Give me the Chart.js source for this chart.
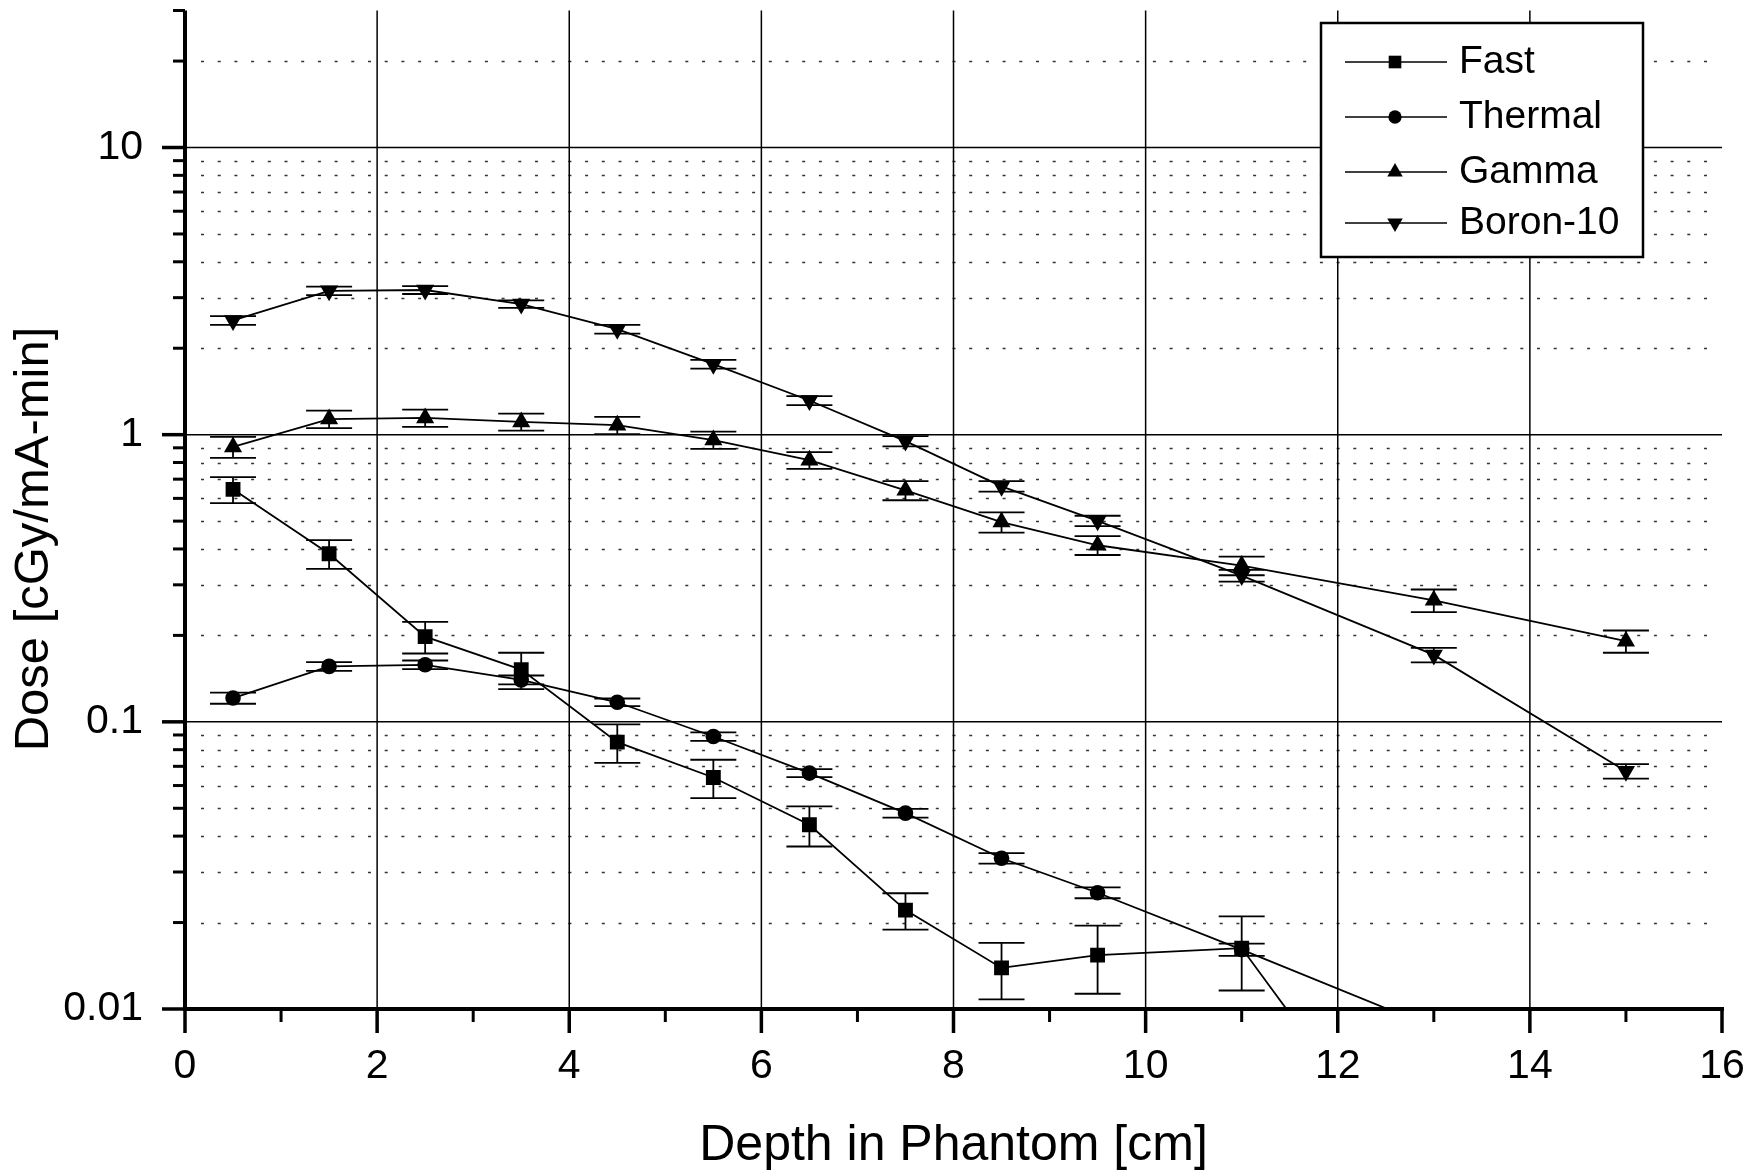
<!DOCTYPE html>
<html>
<head>
<meta charset="utf-8">
<script src="https://cdn.jsdelivr.net/npm/chart.js@4.4.1/dist/chart.umd.min.js"></script>
<style>
  html, body { margin: 0; padding: 0; background: #fff; }
  canvas { display: block; }
</style>
</head>
<body>
<canvas id="doseChart" width="1762" height="1174"></canvas>
<script>
// ---------- DATA ----------
const depths = [0.5, 1.5, 2.5, 3.5, 4.5, 5.5, 6.5, 7.5, 8.5, 9.5, 11, 13, 15];

const fastDose    = [0.645, 0.385, 0.198, 0.152, 0.085, 0.0640, 0.0438, 0.0221, 0.0139, 0.0154, 0.0163, 0.0020, null];
const fastErr     = [0.067, 0.044, 0.025, 0.022, 0.013, 0.0098, 0.0070, 0.0032, 0.0031, 0.0041, 0.0047, 0.0006, null];

const thermalDose = [0.121, 0.156, 0.158, 0.140, 0.117, 0.0889, 0.0663, 0.0481, 0.0335, 0.0254, 0.0161, 0.0086, null];
const thermalErr  = [0.0054, 0.0055, 0.0055, 0.0050, 0.0036, 0.0030, 0.0021, 0.0017, 0.0014, 0.0011, 0.0008, 0.0004, null];

const gammaDose   = [0.906, 1.133, 1.144, 1.108, 1.079, 0.958, 0.815, 0.640, 0.496, 0.412, 0.350, 0.265, 0.191];
const gammaErr    = [0.076, 0.079, 0.079, 0.075, 0.075, 0.066, 0.055, 0.049, 0.040, 0.031, 0.026, 0.024, 0.017];

const boronDose   = [2.50, 3.17, 3.19, 2.85, 2.33, 1.76, 1.315, 0.95, 0.661, 0.501, 0.323, 0.171, 0.0673];
const boronErr    = [0.089, 0.107, 0.100, 0.085, 0.082, 0.062, 0.048, 0.039, 0.028, 0.021, 0.015, 0.010, 0.0039];

const seriesNames = ["Fast", "Thermal", "Gamma", "Boron-10"];

// axis ticks
const xMajorTicks = [0, 2, 4, 6, 8, 10, 12, 14, 16];
const xMinorTicks = [1, 3, 5, 7, 9, 11, 13, 15];
const yMajorTicks = [0.01, 0.1, 1, 10];
const yMinorTicks = [0.02, 0.03, 0.04, 0.05, 0.06, 0.07, 0.08, 0.09,
                     0.2, 0.3, 0.4, 0.5, 0.6, 0.7, 0.8, 0.9,
                     2, 3, 4, 5, 6, 7, 8, 9, 20, 30];
const Y_MIN = 0.01, Y_MAX = 30;

const FONT = "'Liberation Sans', Arial, Helvetica, sans-serif";
Chart.defaults.font.family = FONT;
Chart.defaults.color = "#000";

function toPoints(values) {
  return depths.map((x, i) => ({ x: x, y: values[i] })).filter(p => p.y !== null);
}

function makeSet(label, values, errors, style, radius, rotation) {
  return {
    label: label,
    data: toPoints(values),
    errors: errors.filter(e => e !== null),
    borderColor: "#000",
    borderWidth: 1.8,
    backgroundColor: "#000",
    pointStyle: style,
    pointRadius: radius,
    pointRotation: rotation,
    pointBackgroundColor: "#000",
    pointBorderWidth: 0,
    tension: 0,
    fill: false
  };
}

// ---------- HELPERS ----------
function line(ctx, x1, y1, x2, y2) {
  ctx.beginPath();
  ctx.moveTo(x1, y1);
  ctx.lineTo(x2, y2);
  ctx.stroke();
}

function marker(ctx, style, x, y, r, rot) {
  ctx.fillStyle = "#000";
  if (Chart.helpers && Chart.helpers.drawPoint) {
    Chart.helpers.drawPoint(ctx, { pointStyle: style, radius: r, rotation: rot, borderWidth: 0 }, x, y);
  } else {
    ctx.beginPath();
    ctx.arc(x, y, r, 0, Math.PI * 2);
    ctx.fill();
  }
}

// ---------- GRID, ERROR BARS, AXES ----------
const framePlugin = {
  id: "frame",
  beforeDatasetsDraw(chart) {
    const { ctx, chartArea: a, scales } = chart;
    const xs = scales.x, ys = scales.y;
    ctx.save();

    // dotted minor horizontals
    ctx.strokeStyle = "#333";
    ctx.lineWidth = 1.3;
    ctx.setLineDash([3, 13.7]);
    yMinorTicks.forEach(v => {
      if (v >= Y_MAX) return;
      const py = Math.round(ys.getPixelForValue(v)) + 0.5;
      line(ctx, a.left + 16, py, a.right - 12, py);
    });
    ctx.setLineDash([]);

    // solid major horizontals
    ctx.strokeStyle = "#000";
    ctx.lineWidth = 1.5;
    yMajorTicks.forEach(v => {
      if (v <= Y_MIN) return;
      const py = ys.getPixelForValue(v);
      line(ctx, a.left, py, a.right, py);
    });

    // solid verticals
    xMajorTicks.forEach(v => {
      if (v <= 0 || v >= 16) return;
      const px = xs.getPixelForValue(v);
      line(ctx, px, a.top, px, a.bottom);
    });

    // error bars
    ctx.beginPath();
    ctx.rect(a.left, a.top, a.right - a.left, a.bottom - a.top);
    ctx.clip();
    ctx.lineWidth = 1.8;
    chart.data.datasets.forEach(ds => {
      ds.data.forEach((p, i) => {
        const e = ds.errors[i];
        if (p.y < Y_MIN || e == null) return;
        const px = xs.getPixelForValue(p.x);
        const lo = Math.max(p.y - e, Y_MIN * 0.5);
        const yTop = ys.getPixelForValue(p.y + e);
        const yBot = ys.getPixelForValue(lo);
        line(ctx, px, yTop, px, yBot);
        line(ctx, px - 23, yTop, px + 23, yTop);
        line(ctx, px - 23, yBot, px + 23, yBot);
      });
    });
    ctx.restore();
  },

  afterDatasetsDraw(chart) {
    const { ctx, chartArea: a, scales } = chart;
    const xs = scales.x, ys = scales.y;
    ctx.save();
    ctx.strokeStyle = "#000";
    ctx.lineCap = "butt";

    // axis lines
    ctx.lineWidth = 4;
    line(ctx, a.left, a.top, a.left, a.bottom + 2);
    line(ctx, a.left - 2, a.bottom, a.right + 2, a.bottom);

    // y ticks
    ctx.lineWidth = 3.5;
    yMajorTicks.forEach(v => {
      const py = ys.getPixelForValue(v);
      line(ctx, a.left - 23, py, a.left, py);
    });
    ctx.lineWidth = 3;
    yMinorTicks.forEach(v => {
      const py = ys.getPixelForValue(v);
      line(ctx, a.left - 12, py, a.left, py);
    });

    // x ticks
    ctx.lineWidth = 3.5;
    xMajorTicks.forEach(v => {
      const px = xs.getPixelForValue(v);
      line(ctx, px, a.bottom, px, a.bottom + 24);
    });
    ctx.lineWidth = 3;
    xMinorTicks.forEach(v => {
      const px = xs.getPixelForValue(v);
      line(ctx, px, a.bottom, px, a.bottom + 13);
    });

    // y title
    ctx.fillStyle = "#000";
    ctx.font = "49px " + FONT;
    ctx.textAlign = "center";
    ctx.textBaseline = "middle";
    ctx.translate(34, 539);
    ctx.rotate(-Math.PI / 2);
    ctx.fillText("Dose [cGy/mA-min]", 0, 0);
    ctx.restore();
  }
};

// ---------- LEGEND ----------
const legendPlugin = {
  id: "boxLegend",
  afterDraw(chart) {
    const ctx = chart.ctx;
    const bx = 1321, by = 23, bw = 322, bh = 234;
    ctx.save();
    ctx.fillStyle = "#fff";
    ctx.fillRect(bx, by, bw, bh);
    ctx.strokeStyle = "#000";
    ctx.lineWidth = 2.5;
    ctx.strokeRect(bx, by, bw, bh);

    const rowY = [62, 117, 172, 223];
    ctx.font = "39px " + FONT;
    ctx.textAlign = "left";
    ctx.textBaseline = "middle";
    chart.data.datasets.forEach((ds, i) => {
      const y = rowY[i];
      ctx.strokeStyle = "#000";
      ctx.lineWidth = 1.5;
      line(ctx, 1345, y, 1447, y);
      marker(ctx, ds.pointStyle, 1395, y, ds.pointRadius * 0.85, ds.pointRotation);
      ctx.fillStyle = "#000";
      ctx.fillText(ds.label, 1459, y);
    });
    ctx.restore();
  }
};

// ---------- CHART ----------
new Chart(document.getElementById("doseChart"), {
  type: "line",
  data: {
    datasets: [
      makeSet(seriesNames[0], fastDose, fastErr, "rect", 10.5, 0),
      makeSet(seriesNames[1], thermalDose, thermalErr, "circle", 7.8, 0),
      makeSet(seriesNames[2], gammaDose, gammaErr, "triangle", 10.5, 0),
      makeSet(seriesNames[3], boronDose, boronErr, "triangle", 10.5, 180)
    ]
  },
  options: {
    responsive: false,
    animation: false,
    devicePixelRatio: 1,
    layout: { padding: { top: 8, right: 40, left: 0, bottom: 0 } },
    plugins: {
      legend: { display: false },
      tooltip: { enabled: false }
    },
    scales: {
      x: {
        type: "linear",
        min: 0,
        max: 16,
        grid: { display: false, drawTicks: false },
        border: { display: false },
        ticks: { stepSize: 2, padding: 33, maxRotation: 0, autoSkip: false, font: { size: 41 }, color: "#000" },
        title: {
          display: true,
          text: "Depth in Phantom [cm]",
          font: { size: 50, lineHeight: 1.1 },
          color: "#000",
          padding: { top: 0, bottom: 0 }
        },
        afterFit(s) { s.height = 165; s.paddingLeft = 0; s.paddingRight = 0; }
      },
      y: {
        type: "logarithmic",
        min: Y_MIN,
        max: Y_MAX,
        grid: { display: false, drawTicks: false },
        border: { display: false },
        afterBuildTicks(s) { s.ticks = yMajorTicks.map(v => ({ value: v })); },
        ticks: { padding: 42, font: { size: 41 }, color: "#000", callback: v => String(v) },
        afterFit(s) { s.width = 185; s.paddingTop = 0; s.paddingBottom = 0; }
      }
    }
  },
  plugins: [framePlugin, legendPlugin]
});
</script>
</body>
</html>
